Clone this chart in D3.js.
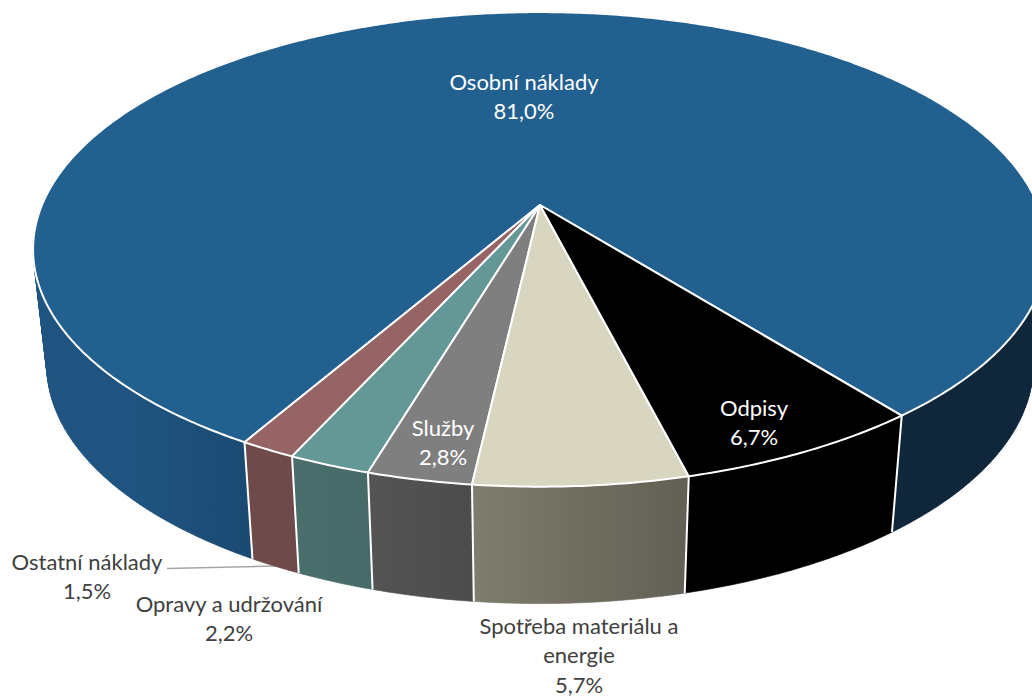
<!DOCTYPE html>
<html><head><meta charset="utf-8">
<script src="https://cdn.jsdelivr.net/npm/d3@7"></script>
<style>html,body{margin:0;padding:0;background:#fff;overflow:hidden}svg{display:block}text{font-family:Lato,"Open Sans",sans-serif;font-size:22px;text-anchor:middle}</style>
</head><body>
<script>
const categories = ["Osobní náklady","Ostatní náklady","Opravy a udržování","Služby","Spotřeba materiálu a energie","Odpisy"];
const shares = [81.0,1.5,2.2,2.8,5.7,6.7];
const valueLabels = ["81,0%","1,5%","2,2%","2,8%","5,7%","6,7%"];
const topColors = ["#22608f","#966464","#639896","#7f7f7f","#d8d6c0","#000000"];
const wallStops = [
  ["#1f5480","#1b4a73","#1b4a73","#10263a","#10263a"],
  ["#6e4a4a","#6e4a4a"],
  ["#4a6e6c","#466a68"],
  ["#545454","#4c4c4c"],
  ["#7f7d6e","#625f54"],
  ["#000000","#000000"]
];
const W=1032,H=697;
const cx=540,cy=205,R=498,B=229,K=0.187,SX=0.973,SY=1.005,D=115.5;
const startAngle=141.7*Math.PI/180;
const svg=d3.select("body").append("svg").attr("width",W).attr("height",H);
const defs=svg.append("defs");
const pie=d3.pie().sort(null).startAngle(startAngle).endAngle(startAngle-2*Math.PI);
const arcs=pie(shares);
function proj(a,low){
  const X=Math.sin(a),Y=-Math.cos(a),w=1-K*Y;
  return low?[cx+SX*R*X/w, cy+SY*B*Y/w+D]:[cx+R*X/w, cy+B*Y/w];
}
const line=d3.line();
function rim(d,low){
  const n=Math.max(6,Math.ceil(Math.abs(d.endAngle-d.startAngle)/0.01));
  return d3.range(n+1).map(i=>proj(d.startAngle+(d.endAngle-d.startAngle)*i/n,low));
}
function wallPath(d){
  const t=rim(d,false),b=rim(d,true);
  return d3.range(t.length-1).map(i=>{
    const q=[t[i],t[i+1],b[i+1],b[i]];
    return line(d3.polygonArea(q)<0?q.reverse():q)+"Z";
  }).join("");
}
arcs.forEach((d,i)=>{
  const pts=rim(d,false).concat(rim(d,true));
  const x0=d3.min(pts,p=>p[0]),x1=d3.max(pts,p=>p[0]);
  const g=defs.append("linearGradient").attr("id","wall"+i).attr("gradientUnits","userSpaceOnUse")
    .attr("x1",x0).attr("x2",x1).attr("y1",0).attr("y2",0);
  const st=wallStops[i];
  if(i===0){
    [[0,st[0]],[0.1,st[0]],[0.21,st[1]],[0.85,st[3]],[1,st[4]]].forEach(s=>g.append("stop").attr("offset",s[0]).attr("stop-color",s[1]));
  } else {
    st.forEach((c,j)=>g.append("stop").attr("offset",j/(st.length-1)).attr("stop-color",c));
  }
});
// leader (behind the walls)
svg.append("line").attr("x1",167).attr("y1",568.5).attr("x2",276).attr("y2",566)
  .attr("stroke","#a6a6a6").attr("stroke-width",1.5);
// walls
svg.append("g").selectAll("path").data(arcs).join("path")
  .attr("d",wallPath)
  .attr("fill",(d,i)=>`url(#wall${i})`)
  .attr("stroke",(d,i)=>`url(#wall${i})`).attr("stroke-width",0.6);
// wall edges
svg.append("g").selectAll("line").data(arcs).join("line")
  .each(function(d){
    const a=proj(d.startAngle,false),b=proj(d.startAngle,true);
    d3.select(this).attr("x1",a[0]).attr("y1",a[1]).attr("x2",b[0]).attr("y2",b[1]);
  })
  .attr("stroke","#fff").attr("stroke-width",2);
// top face
svg.append("g").selectAll("path").data(arcs).join("path")
  .attr("d",d=>line([[cx,cy]].concat(rim(d,false)))+"Z")
  .attr("fill",(d,i)=>topColors[i])
  .attr("stroke","#fff").attr("stroke-width",2).attr("stroke-linejoin","round");
// labels
const labelPlacement=[
  {x:524,y:[90,119],c:"#fff",lines:[categories[0]]},
  {x:87,y:[570,599],c:"#404040",lines:[categories[1]]},
  {x:229,y:[612,641],c:"#404040",lines:[categories[2]]},
  {x:443,y:[436,465],c:"#fff",lines:[categories[3]]},
  {x:579,y:[634,663,693],c:"#404040",lines:["Spotřeba materiálu a","energie"]},
  {x:754,y:[416,445],c:"#fff",lines:[categories[5]]}
];
labelPlacement.forEach((l,i)=>{
  l.lines.concat([valueLabels[i]]).forEach((t,j)=>{
    svg.append("text").attr("x",l.x).attr("y",l.y[j]).attr("fill",l.c).text(t);
  });
});
</script>
</body></html>
